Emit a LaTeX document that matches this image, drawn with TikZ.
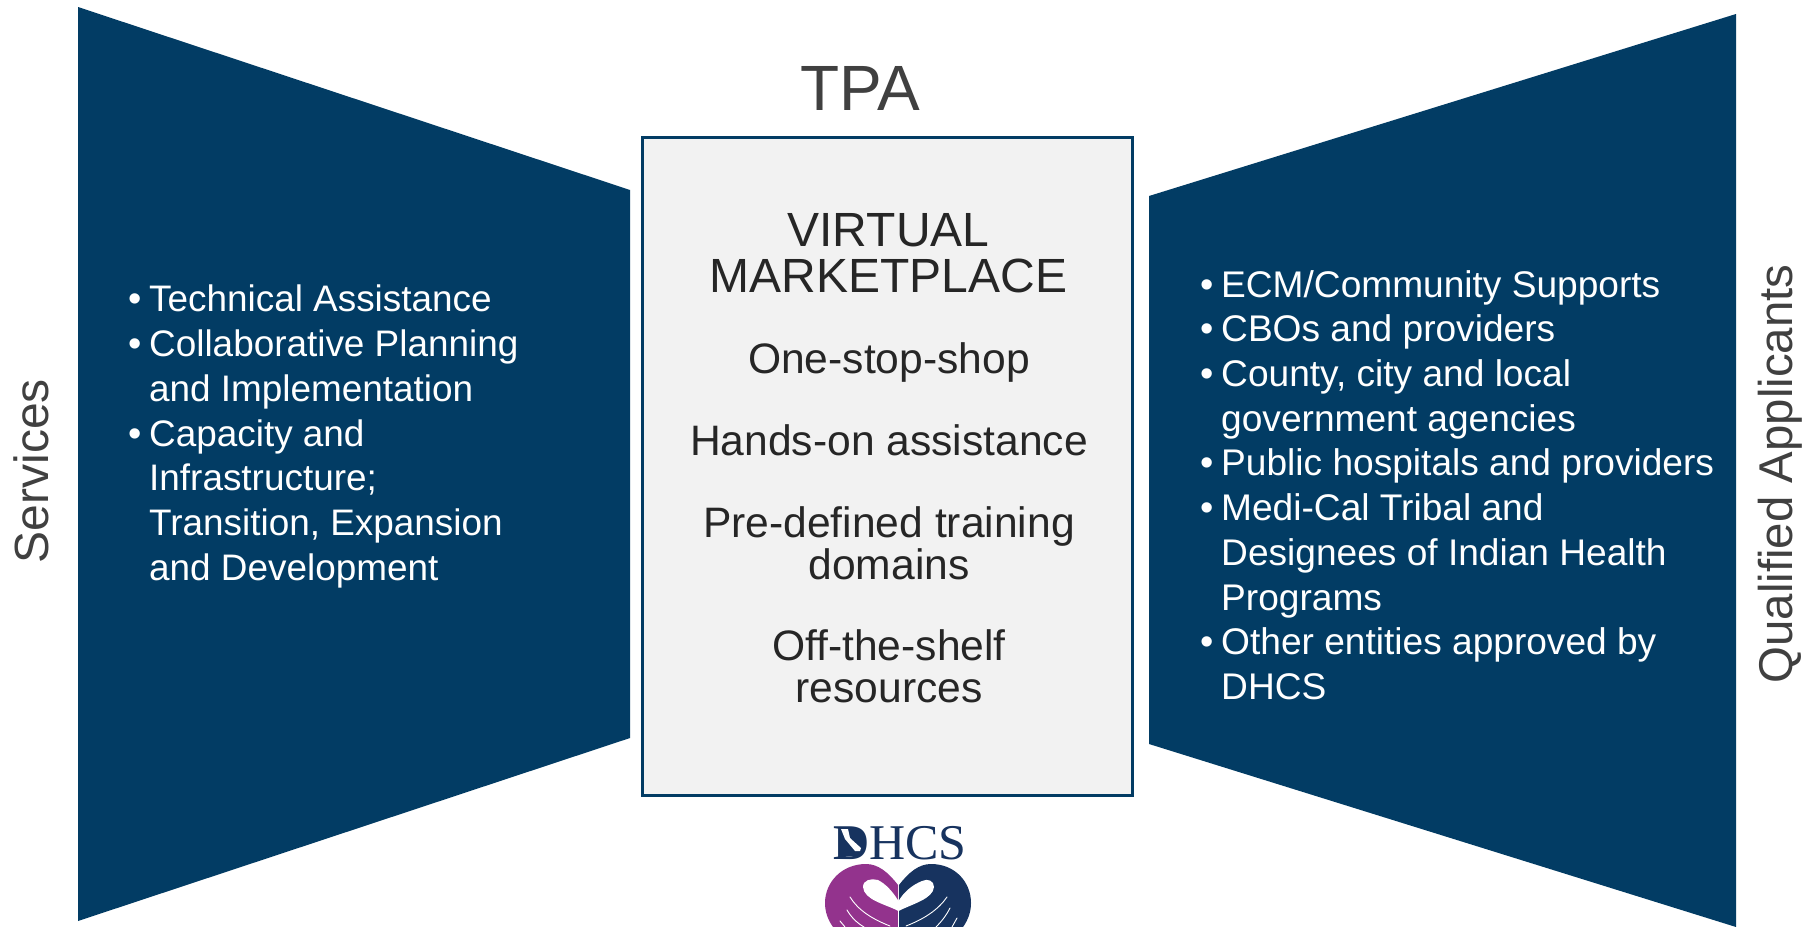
\documentclass[tikz,border=0pt]{standalone}
\usepackage{fontspec}
\setmainfont{Liberation Sans}
\newfontfamily\logoserif{Liberation Serif}
\definecolor{navy}{HTML}{023C64}
\definecolor{boxgrey}{HTML}{F2F2F2}
\definecolor{labelgrey}{HTML}{404040}
\definecolor{inktext}{HTML}{262626}
\definecolor{logonavy}{HTML}{17335F}
\definecolor{logopurple}{HTML}{93338D}
\newcommand{\bul}{\makebox[21pt][l]{\fontsize{38}{38}\selectfont•}}
\newcommand{\ind}{\hspace*{21pt}}
\tikzset{
  wing/.style={fill=navy,draw=none},
  listtext/.style={text=white,align=left,inner sep=0pt,font=\fontsize{36.9}{44.8}\selectfont},
  sidelabel/.style={text=labelgrey,inner sep=0pt,rotate=90,font=\fontsize{48}{52}\selectfont},
  centerline/.style={text=inktext,align=center,inner sep=0pt,font=\fontsize{42.6}{41.6}\selectfont},
  logoline/.style={white,line width=.9pt,line cap=round}
}
\begin{document}
\begin{tikzpicture}[x=1pt,y=-1pt]
\useasboundingbox (0,0) rectangle (1814,926);
\clip (0,0) rectangle (1814,927);
\fill[white] (0,0) rectangle (1814,927);
\path[wing] (78,7) -- (630,190) -- (630,738) -- (78,921) -- cycle;
\path[wing] (1149,196) -- (1736,14) -- (1736,927) -- (1149,744) -- cycle;
\node[draw=navy,fill=boxgrey,line width=2.5pt,minimum width=490pt,minimum height=658pt,inner sep=0pt] (box) at (887.5,466.5) {};
\node[text=labelgrey,inner sep=0pt,font=\fontsize{64}{64}\selectfont] (tpa) at (860.5,88) {TPA};
\node[sidelabel] (services) at (31,471) {Services};
\node[sidelabel,font=\fontsize{47.4}{52}\selectfont] (qualified) at (1780.5,474) {Qualified Applicants};
\node[listtext,anchor=west] (leftlist) at (128,436.5) {\bul Technical Assistance\\
\bul Collaborative Planning\\
\ind and Implementation\\
\bul Capacity and\\
\ind Infrastructure;\\
\ind Transition, Expansion\\
\ind and Development};
\node[listtext,anchor=west,font=\fontsize{37.1}{44.7}\selectfont] (rightlist) at (1200,485) {\bul ECM/Community Supports\\
\bul CBOs and providers\\
\bul County, city and local\\
\ind government agencies\\
\bul Public hospitals and providers\\
\bul Medi-Cal Tribal and\\
\ind Designees of Indian Health\\
\ind Programs\\
\bul Other entities approved by\\
\ind DHCS};
\node[centerline,font=\fontsize{48}{46}\selectfont] (vm) at (888.5,253.5) {VIRTUAL\\MARKETPLACE};
\node[centerline] (one) at (889,362.5) {One-stop-shop};
\node[centerline] (hands) at (889,440) {Hands-on assistance};
\node[centerline] (pre) at (889,543) {Pre-defined training\\domains};
\node[centerline] (off) at (889,666) {Off-the-shelf\\resources};
% logo
\node[text=logonavy,inner sep=0pt,anchor=base west,font=\logoserif\fontsize{50}{50}\selectfont] (dhcs) at (833,859.5) {\textbf{D}HCS};
\fill[logonavy,rounded corners=3pt] (841,828) rectangle (860,856);
\fill[white] (841,829) -- (848,829) -- (850,838) -- (861,848) -- (860,851) -- (855,851) -- (845,839) -- cycle;
\fill[logopurple] (898,885) .. controls (888,872) and (878,864) .. (866,864) .. controls (842,864) and (825,882) .. (825,903) .. controls (825,912) and (828,920) .. (833,927) -- (898,927) -- cycle;
\fill[logonavy] (899,885) .. controls (909,872) and (919,864) .. (931,864) .. controls (955,864) and (971,882) .. (971,903) .. controls (971,912) and (968,920) .. (963,927) -- (899,927) -- cycle;
\fill[white] (898.5,911) .. controls (885,904) and (864,900) .. (863,887) .. controls (863,880) and (871,878) .. (878,880) .. controls (886,884) and (893,892) .. (898.5,901) .. controls (904,892) and (912,885) .. (922,881) .. controls (928,878) and (934,881) .. (934,887) .. controls (933,899) and (912,904) .. (898.5,911) -- cycle;
\draw[white,line width=1pt] (898.5,911) -- (898.5,927);
\draw[logoline] (850,897) .. controls (858,910) and (872,919) .. (890,926);
\draw[logoline] (947,897) .. controls (938,910) and (924,919) .. (906,926);
\draw[logoline] (847,910) .. controls (851,917) and (857,923) .. (864,927);
\draw[logoline] (950,908) .. controls (946,916) and (941,922) .. (936,927);
\draw[logoline] (840,921) -- (845,927);
\draw[logoline] (957,918) -- (952,927);
\end{tikzpicture}
\end{document}
